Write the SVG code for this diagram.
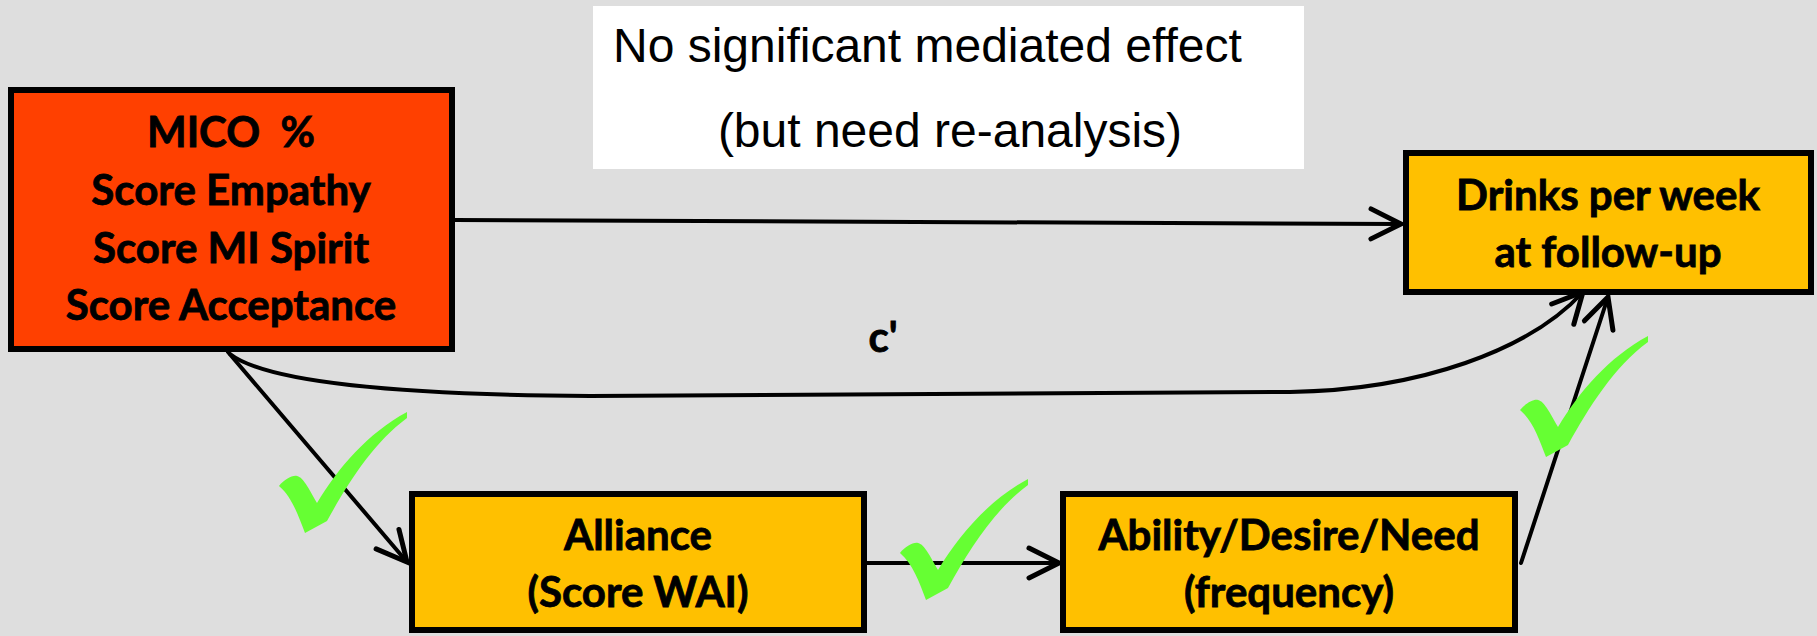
<svg xmlns="http://www.w3.org/2000/svg" width="1817" height="636" viewBox="0 0 1817 636">
  <defs>
    <style>
      .box { stroke: #000; stroke-width: 6; }
      .mico { fill: #FF4000; }
      .amber { fill: #FFC000; }
      .lbl { font-family: Lato, "Liberation Sans", sans-serif; font-weight: 700; font-size: 42px; fill: #000; stroke: #000; stroke-width: 0.8; text-anchor: middle; }
      .note { font-family: "Liberation Sans", Arial, sans-serif; font-size: 48px; fill: #000; }
      .wire { fill: none; stroke: #000; stroke-width: 4; stroke-linecap: round; }
      .tick { fill: #66FF33; }
    </style>
    <marker id="open-arrow" markerUnits="userSpaceOnUse" markerWidth="40" markerHeight="40" viewBox="-34 -20 40 40" refX="0" refY="0" orient="auto">
      <path d="M -30,-15 L 0,0 L -30,15" fill="none" stroke="#000" stroke-width="5" stroke-linecap="round" stroke-linejoin="miter"/>
    </marker>
    <!-- brush-style tick, origin at its lowest point -->
    <path id="check" d="M -3,0 C -10,-18 -16,-36 -29,-47 C -24,-53 -16,-58 -11,-57 C -6,-56 -2,-50 9,-30 C 30,-65 60,-100 99,-121 L 99,-115 C 65,-90 40,-50 19,-12 Z"/>
  </defs>

  <rect width="1817" height="636" fill="#DEDEDE"/>

  <!-- note panel -->
  <g id="note">
    <rect x="593" y="6" width="711" height="163" fill="#FFFFFF"/>
    <text class="note" x="613" y="62">No significant mediated effect</text>
    <text class="note" x="950" y="147" text-anchor="middle">(but need re-analysis)</text>
  </g>

  <!-- connectors -->
  <g id="connectors">
    <path class="wire" d="M 455,220 L 1401,224" marker-end="url(#open-arrow)"/>
    <path class="wire" d="M 230,354 C 270,385 420,395 590,396 L 1290,392 C 1420,390 1530,350 1583,292" stroke-width="5" marker-end="url(#open-arrow)"/>
    <path class="wire" d="M 228,352 L 407,562" marker-end="url(#open-arrow)"/>
    <path class="wire" d="M 867,563 L 1059,563" stroke-width="5" marker-end="url(#open-arrow)"/>
    <path class="wire" d="M 1521,563 L 1608,297" marker-end="url(#open-arrow)"/>
    <text class="lbl" x="883" y="352">c'</text>
  </g>

  <!-- check marks on significant paths -->
  <g id="checks">
    <use href="#check" class="tick" x="308" y="533"/>
    <use href="#check" class="tick" x="929" y="600"/>
    <use href="#check" class="tick" x="1549" y="457"/>
  </g>

  <g id="node-mico">
    <rect class="box mico" x="11" y="90" width="441" height="259"/>
    <text class="lbl" x="231" y="147" xml:space="preserve">MICO  %</text>
    <text class="lbl" x="231" y="205">Score Empathy</text>
    <text class="lbl" x="231" y="263">Score MI Spirit</text>
    <text class="lbl" x="231" y="320">Score Acceptance</text>
  </g>

  <g id="node-drinks">
    <rect class="box amber" x="1406" y="153" width="405" height="139"/>
    <text class="lbl" x="1608" y="210">Drinks per week</text>
    <text class="lbl" x="1608" y="267">at follow-up</text>
  </g>

  <g id="node-alliance">
    <rect class="box amber" x="412" y="494" width="452" height="136"/>
    <text class="lbl" x="638" y="550">Alliance</text>
    <text class="lbl" x="638" y="607">(Score WAI)</text>
  </g>

  <g id="node-ability">
    <rect class="box amber" x="1063" y="494" width="452" height="136"/>
    <text class="lbl" x="1289" y="550">Ability/Desire/Need</text>
    <text class="lbl" x="1289" y="607">(frequency)</text>
  </g>
</svg>
